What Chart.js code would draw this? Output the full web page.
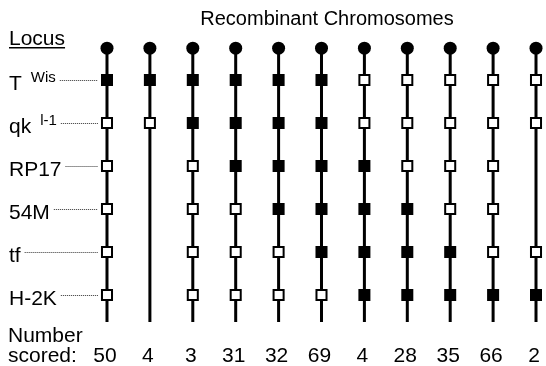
<!DOCTYPE html>
<html>
<head>
<meta charset="utf-8">
<title>Recombinant Chromosomes</title>
<script src="https://cdn.jsdelivr.net/npm/chart.js@4.4.0/dist/chart.umd.min.js"></script>
<style>
  html, body { margin: 0; padding: 0; background: #fff; }
  canvas { display: block; }
</style>
</head>
<body>
<canvas id="chart-loci" width="546" height="366"></canvas>
<script>
// ===================================================
// Recombinant chromosomes - locus genotypes
// ===================================================
const locusNames = ['T', 'qk', 'RP17', '54M', 'tf', 'H-2K'];
const locusSup = ['Wis', 'l-1', '', '', '', ''];
const numberScored = [50, 4, 3, 31, 32, 69, 4, 28, 35, 66, 2];

// 1 = filled square, 0 = open square, null = not typed (one array per chromosome)
const chr1 = [1, 0, 0, 0, 0, 0];
const chr2 = [1, 0, null, null, null, null];
const chr3 = [1, 1, 0, 0, 0, 0];
const chr4 = [1, 1, 1, 0, 0, 0];
const chr5 = [1, 1, 1, 1, 0, 0];
const chr6 = [1, 1, 1, 1, 1, 0];
const chr7 = [0, 0, 1, 1, 1, 1];
const chr8 = [0, 0, 0, 1, 1, 1];
const chr9 = [0, 0, 0, 0, 1, 1];
const chr10 = [0, 0, 0, 0, 0, 1];
const chr11 = [0, 0, null, null, 0, 1];
const genotypes = [chr1, chr2, chr3, chr4, chr5, chr6, chr7, chr8, chr9, chr10, chr11];

// centromere row and end of chromosome (row units)
const centromereRow = 0.26;
const chromEndRow = 6.63;

const FONT = '"Liberation Sans", Arial, Helvetica, sans-serif';

const markerPoints = (val) => {
  const pts = [];
  genotypes.forEach((g, c) => {
    g.forEach((v, r) => { if (v === val) pts.push({ x: c, y: r + 1 }); });
  });
  return pts;
};

const chromLines = genotypes.map((g, c) => ({
  type: 'line',
  data: [{ x: c, y: centromereRow }, { x: c, y: chromEndRow }],
  borderColor: '#000',
  borderWidth: 3,
  pointRadius: 0,
  order: 2
}));

const bgPlugin = {
  id: 'bg',
  beforeDraw: (chart) => {
    const { ctx } = chart;
    ctx.save();
    ctx.fillStyle = '#fff';
    ctx.fillRect(0, 0, chart.width, chart.height);
    ctx.restore();
  }
};

const textPlugin = {
  id: 'texts',
  afterDraw: (chart) => {
    const { ctx } = chart;
    const xs = chart.scales.x;
    const ys = chart.scales.y;
    ctx.save();
    ctx.fillStyle = '#000';
    ctx.textBaseline = 'alphabetic';

    // title
    ctx.font = `20px ${FONT}`;
    ctx.textAlign = 'center';
    ctx.fillText('Recombinant Chromosomes', 327, 25);

    // "Locus" header, underlined
    ctx.textAlign = 'left';
    ctx.font = `21px ${FONT}`;
    ctx.fillText('Locus', 9, 45);
    const lw = ctx.measureText('Locus').width;
    ctx.fillRect(9, 47, lw, 1.5);

    // locus labels with dotted leaders
    const firstCol = xs.getPixelForValue(0);
    locusNames.forEach((name, i) => {
      const y = ys.getPixelForValue(i + 1);
      ctx.font = `21px ${FONT}`;
      ctx.fillText(name, 9, y + 10);
      let end = 9 + ctx.measureText(name).width;
      if (locusSup[i]) {
        ctx.font = `15px ${FONT}`;
        const sx = end + 9;
        ctx.fillText(locusSup[i], sx, y + 2);
        end = sx + ctx.measureText(locusSup[i]).width;
      }
      ctx.save();
      ctx.strokeStyle = '#333';
      ctx.lineWidth = 1;
      ctx.setLineDash([1, 1]);
      ctx.beginPath();
      ctx.moveTo(end + 4, y + 0.5);
      ctx.lineTo(firstCol - 9, y + 0.5);
      ctx.stroke();
      ctx.restore();
    });

    // number scored
    ctx.font = `21px ${FONT}`;
    ctx.fillText('Number', 8, 342);
    ctx.fillText('scored:', 8, 362);
    ctx.textAlign = 'center';
    numberScored.forEach((n, c) => {
      ctx.fillText(String(n), xs.getPixelForValue(c) - 2, 362);
    });
    ctx.restore();
  }
};

new Chart(document.getElementById('chart-loci'), {
  type: 'scatter',
  data: {
    datasets: [
      {
        label: 'centromere',
        data: genotypes.map((g, c) => ({ x: c, y: centromereRow })),
        pointStyle: 'circle',
        pointRadius: 6.5,
        backgroundColor: '#000',
        borderWidth: 0,
        order: 1
      },
      {
        label: 'filled',
        data: markerPoints(1),
        pointStyle: 'rect',
        pointRadius: 8.5,
        backgroundColor: '#000',
        borderWidth: 0,
        order: 1
      },
      {
        label: 'open',
        data: markerPoints(0),
        pointStyle: 'rect',
        pointRadius: 7.1,
        backgroundColor: '#fff',
        borderColor: '#000',
        borderWidth: 2,
        order: 1
      },
      ...chromLines
    ]
  },
  options: {
    responsive: false,
    animation: false,
    devicePixelRatio: 1,
    layout: { padding: 0, autoPadding: false },
    plugins: { legend: { display: false }, tooltip: { enabled: false } },
    elements: { point: { hoverRadius: 0 } },
    datasets: { scatter: { clip: false }, line: { clip: false } },
    scales: {
      x: { type: 'linear', display: false, min: -2.494, max: 10.233 },
      y: { type: 'linear', display: false, reverse: true, min: -0.8605, max: 7.651 }
    }
  },
  plugins: [bgPlugin, textPlugin]
});
</script>
</body>
</html>
